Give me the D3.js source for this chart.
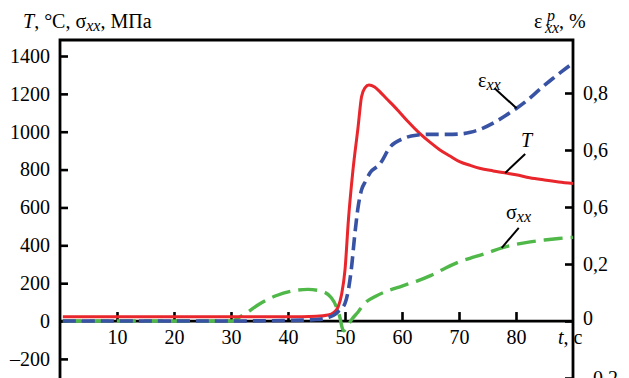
<!DOCTYPE html>
<html>
<head>
<meta charset="utf-8">
<script src="https://cdn.jsdelivr.net/npm/d3@7"></script>
<style>
  html, body { margin: 0; padding: 0; background: #fff; }
</style>
</head>
<body>
<div id="chart"></div>
<script>
// time, s
const tempTime = [0.5, 10, 20, 30, 40, 45, 47, 48, 48.8, 49.4, 50, 50.6, 51.4, 52.3, 52.9, 53.5, 54.2, 55.2, 56.1, 57.3, 58.5, 59.6, 61, 63.1, 65, 66.6, 68.5, 70.1, 72, 73.6, 76, 78, 80, 82.4, 85, 87.5, 90];
const tempValues = [22, 22, 22, 22, 22, 25, 32, 45, 75, 140, 270, 534, 798, 1026, 1185, 1232, 1247, 1236, 1212, 1174, 1138, 1102, 1055, 991, 942, 905, 870, 842, 822, 807, 793, 783, 773, 757, 745, 735, 727];

const strainTime = [0.5, 10, 20, 30, 40, 45, 47, 48, 48.8, 50, 50.6, 51.1, 51.7, 52.3, 52.9, 53.6, 54.4, 56.1, 57.9, 60.2, 62.5, 65, 68, 70, 72, 74, 76.5, 78.5, 80, 82, 84, 86.4, 88, 90];
const strainValues = [0, 0, 0, 0, 0.002, 0.005, 0.012, 0.02, 0.033, 0.062, 0.11, 0.18, 0.3, 0.4, 0.46, 0.49, 0.52, 0.55, 0.61, 0.64, 0.652, 0.655, 0.655, 0.656, 0.662, 0.675, 0.7, 0.725, 0.745, 0.775, 0.81, 0.85, 0.875, 0.905];

const stressTime = [0.5, 10, 20, 30, 32, 35, 38, 41, 43.5, 45.8, 47.6, 48.5, 49.1, 49.5, 49.8, 50.3, 51.1, 52.3, 53.5, 55.3, 57.5, 60, 62.5, 65, 67.5, 70, 72.5, 75, 77.5, 80, 82.5, 85, 87.5, 90];
const stressValues = [0, 0, 0, 0, 30, 90, 135, 160, 167, 158, 123, 75, 20, -35, -52, -35, 5, 48, 95, 130, 160, 185, 210, 240, 278, 312, 337, 360, 387, 405, 418, 428, 436, 442];

const xTicks = [10, 20, 30, 40, 50, 60, 70, 80];
const leftTicks = [-200, 0, 200, 400, 600, 800, 1000, 1200, 1400];
const leftTickLabels = ['–200', '0', '200', '400', '600', '800', '1000', '1200', '1400'];
const rightTicks = [-0.2, 0, 0.2, 0.4, 0.6, 0.8];
const rightTickLabels = ['–0.2', '0', '0,2', '0,6', '0,6', '0,8'];

// label anchors (time on curve)
const strainLabelAt = 80.1;
const tempLabelAt = 78.1;
const stressLabelAt = 77.5;

const width = 629;
const height = 378;
const fontSize = 20;
const subSize = 16;
const serif = '"Liberation Serif"';

const svg = d3
  .select('#chart')
  .append('svg')
  .attr('width', width)
  .attr('height', height)
  .style('display', 'block');

const x = d3.scaleLinear().domain([0, 90]).range([60, 573]);
const yLeft = d3.scaleLinear().domain([-200, 1400]).range([358.9, 56]);
const yRight = d3.scaleLinear().domain([-0.2, 0.8]).range([378, 93]);

/* Frame
=========================================================================*/
const frame = svg.append('g').attr('stroke', '#000').attr('stroke-width', 2.8).attr('fill', 'none');
frame.append('path').attr('d', `M${x(0)},${height + 2}V40H${x(90)}V${height + 2}`);
frame.append('line').attr('x1', x(0)).attr('x2', x(90)).attr('y1', yLeft(0)).attr('y2', yLeft(0));

/* Axes
=========================================================================*/
const styleAxis = (g) => {
  g.attr('font-family', null).attr('font-size', null);
  g.select('.domain').remove();
  g.selectAll('.tick line').attr('stroke', '#000').attr('stroke-width', 2.6);
  g.selectAll('.tick text')
    .attr('fill', '#000')
    .attr('font-family', serif)
    .attr('font-size', fontSize);
};

svg
  .append('g')
  .attr('transform', `translate(${x(0)},0)`)
  .call(
    d3.axisLeft(yLeft)
      .tickValues(leftTicks)
      .tickFormat((d, i) => leftTickLabels[i])
      .tickSizeInner(-8)
      .tickSizeOuter(0)
      .tickPadding(10)
  )
  .call(styleAxis);

svg
  .append('g')
  .attr('transform', `translate(${x(90)},0)`)
  .call(
    d3.axisRight(yRight)
      .tickValues(rightTicks)
      .tickFormat((d, i) => rightTickLabels[i])
      .tickSizeInner(-8)
      .tickSizeOuter(0)
      .tickPadding(10)
  )
  .call(styleAxis)
  .call((g) => g.selectAll('.tick text').filter((d) => d === 0).attr('dy', '0.15em'));

svg
  .append('g')
  .attr('transform', `translate(0,${yLeft(0)})`)
  .call(
    d3.axisBottom(x)
      .tickValues(xTicks)
      .tickSizeInner(-9)
      .tickSizeOuter(0)
      .tickPadding(9)
  )
  .call(styleAxis);

/* Curves
=========================================================================*/
const stressLine = d3.line().x((d) => x(d[0])).y((d) => yLeft(d[1])).curve(d3.curveMonotoneX);
const tempLine = d3.line().x((d) => x(d[0])).y((d) => yLeft(d[1])).curve(d3.curveMonotoneX);
const strainLine = d3.line().x((d) => x(d[0])).y((d) => yRight(d[1])).curve(d3.curveMonotoneX);

const stressData = d3.zip(stressTime, stressValues);
const tempData = d3.zip(tempTime, tempValues);
const strainData = d3.zip(strainTime, strainValues);

svg.append('path')
  .datum(stressData)
  .attr('d', stressLine)
  .attr('fill', 'none')
  .attr('stroke', '#4fb848')
  .attr('stroke-width', 3.4)
  .attr('stroke-dasharray', '19 8');

svg.append('path')
  .datum(tempData)
  .attr('d', tempLine)
  .attr('fill', 'none')
  .attr('stroke', '#e8262b')
  .attr('stroke-width', 3);

svg.append('path')
  .datum(strainData)
  .attr('d', strainLine)
  .attr('fill', 'none')
  .attr('stroke', '#3953a4')
  .attr('stroke-width', 3.6)
  .attr('stroke-dasharray', '13 6');

/* Curve labels
=========================================================================*/
const valueAt = (times, values, t) => d3.scaleLinear().domain(times).range(values)(t);

const leaders = [
  { t: strainLabelAt, y: (t) => yRight(valueAt(strainTime, strainValues, t)), dx: -22, dy: -20 },
  { t: tempLabelAt, y: (t) => yLeft(valueAt(tempTime, tempValues, t)), dx: 20, dy: -19 },
  { t: stressLabelAt, y: (t) => yLeft(valueAt(stressTime, stressValues, t)), dx: 17, dy: -20 },
];

leaders.forEach((l) => {
  const px = x(l.t);
  const py = l.y(l.t);
  svg.append('line')
    .attr('x1', px).attr('y1', py)
    .attr('x2', px + l.dx).attr('y2', py + l.dy)
    .attr('stroke', '#000')
    .attr('stroke-width', 2);
});

const addText = (xPos, yPos, size = fontSize) =>
  svg.append('text')
    .attr('x', xPos)
    .attr('y', yPos)
    .attr('font-family', serif)
    .attr('font-size', size)
    .attr('fill', '#000');

const strainLabel = addText(478, 87);
strainLabel.append('tspan').text('ε');
strainLabel.append('tspan').attr('font-style', 'italic').attr('font-size', subSize).attr('dy', 3).text('xx');

addText(521, 147).attr('font-style', 'italic').text('T');

const stressLabel = addText(506, 219);
stressLabel.append('tspan').text('σ');
stressLabel.append('tspan').attr('font-style', 'italic').attr('font-size', subSize).attr('dy', 3).text('xx');

/* Axis titles
=========================================================================*/
const leftTitle = addText(23, 28);
leftTitle.append('tspan').attr('font-style', 'italic').text('T');
leftTitle.append('tspan').text(', °C, σ');
leftTitle.append('tspan').attr('font-style', 'italic').attr('font-size', subSize).attr('dy', 3).text('xx');
leftTitle.append('tspan').attr('dy', -3).text(', МПа');

addText(534, 28).text('ε');
addText(547, 21, subSize).attr('font-style', 'italic').text('p');
addText(545, 33, subSize).attr('font-style', 'italic').text('xx');
addText(559, 28).text(', %');

const xTitle = addText(558, 344);
xTitle.append('tspan').attr('font-style', 'italic').text('t');
xTitle.append('tspan').text(', c');
</script>
</body>
</html>
